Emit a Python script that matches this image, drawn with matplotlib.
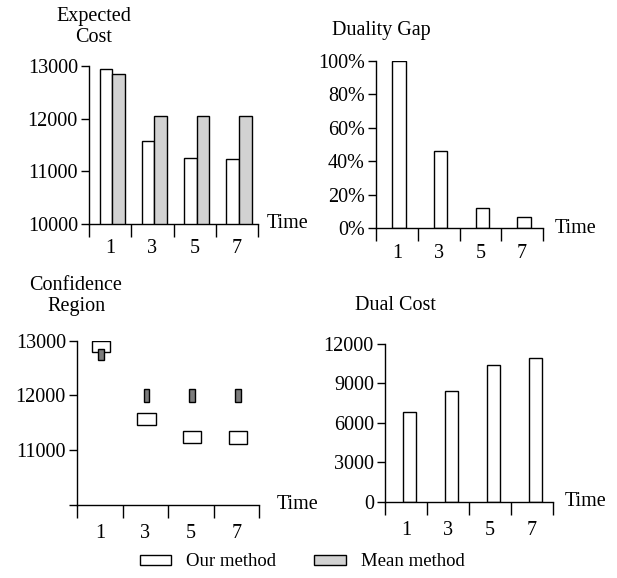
import matplotlib
matplotlib.use('Agg')
from matplotlib import pyplot as plt
from matplotlib.patches import Patch

plt.rcParams['font.family'] = 'Liberation Serif'
plt.rcParams['font.size'] = 14.5
plt.rcParams['axes.linewidth'] = 1.0

# data
times = [1, 3, 5, 7]
exp_ours = [12950, 11580, 11250, 11240]
exp_mean = [12850, 12060, 12060, 12060]
gap_pct = [100, 46, 12, 7]
ci_ours_low = [12790, 11450, 11120, 11110]
ci_ours_high = [13000, 11680, 11350, 11340]
ci_mean_low = [12640, 11870, 11870, 11870]
ci_mean_high = [12850, 12120, 12120, 12120]
dual_cost = [6800, 8450, 10400, 10900]

W, H = 617, 578
fig = plt.figure(figsize=(W / 100, H / 100), dpi=100)


def make_axes(x0, x1, ytop, ybot):
    return fig.add_axes([x0 / W, 1 - ybot / H, (x1 - x0) / W, (ybot - ytop) / H])


def style(ax, time_x, label_pad):
    ax.spines['top'].set_visible(False)
    ax.spines['right'].set_visible(False)
    ax.set_xlim(0, 8)
    ax.set_xticks([0, 2, 4, 6, 8])
    ax.set_xticklabels([])
    ax.set_xticks(times, minor=True)
    ax.set_xticklabels([str(t) for t in times], minor=True)
    ax.tick_params(axis='x', which='major', direction='out', length=9.4, width=1.0)
    ax.tick_params(axis='x', which='minor', length=0, pad=label_pad)
    ax.tick_params(axis='y', direction='out', length=6, width=1.0, pad=2)
    ax.text(time_x, 0, 'Time', transform=ax.transAxes, ha='left', va='center')


light = '#d2d2d2'
dark = '#7c7c7c'

# Expected cost
ax1 = make_axes(89, 258, 66, 224)
x = [t - 0.2 for t in times]
ax1.bar(x, exp_ours, width=0.6, color='white', edgecolor='black', linewidth=1.0)
x = [t + 0.4 for t in times]
ax1.bar(x, exp_mean, width=0.6, color=light, edgecolor='black', linewidth=1.0)
ax1.set_ylim(10000, 13000)
ax1.set_yticks([10000, 11000, 12000, 13000])
style(ax1, 1.053, 11)
fig.text(94 / W, 1 - 27 / H, 'Expected\nCost', ha='center', va='center', linespacing=1.2)

# Duality gap
ax2 = make_axes(376, 543, 61, 228.3)
x = [t + 0.1 for t in times]
ax2.bar(x, gap_pct, width=0.65, color='white', edgecolor='black', linewidth=1.0)
ax2.set_ylim(0, 100)
ax2.set_yticks([0, 20, 40, 60, 80, 100])
ax2.set_yticklabels(['0%', '20%', '40%', '60%', '80%', '100%'])
style(ax2, 1.07, 11.5)
fig.text(381 / W, 1 - 30 / H, 'Duality Gap', ha='center', va='center')

# Confidence region
ax3 = make_axes(77, 259.3, 340.7, 504.7)
x = [t + 0.05 for t in times]
ax3.bar(x, [h - l for h, l in zip(ci_ours_high, ci_ours_low)], bottom=ci_ours_low,
        width=0.8, color='white', edgecolor='black', linewidth=1.0)
ax3.bar(x, [h - l for h, l in zip(ci_mean_high, ci_mean_low)], bottom=ci_mean_low,
        width=0.26, color=dark, edgecolor='black', linewidth=1.0)
ax3.set_ylim(10000, 13000)
ax3.set_yticks([10000, 11000, 12000, 13000])
ax3.set_yticklabels(['', '11000', '12000', '13000'])
style(ax3, 1.095, 14)
fig.text(76 / W, 1 - 296 / H, 'Confidence\nRegion', ha='center', va='center', linespacing=1.2)

# Dual cost
ax4 = make_axes(385, 553, 344, 501.7)
x = [t + 0.15 for t in times]
ax4.bar(x, dual_cost, width=0.63, color='white', edgecolor='black', linewidth=1.0)
ax4.set_ylim(0, 12000)
ax4.set_yticks([0, 3000, 6000, 9000, 12000])
style(ax4, 1.07, 14)
fig.text(395 / W, 1 - 305 / H, 'Dual Cost', ha='center', va='center')

handles = [Patch(facecolor='white', edgecolor='black', linewidth=1.0, label='Our method'),
           Patch(facecolor=light, edgecolor='black', linewidth=1.0, label='Mean method')]
fig.legend(handles=handles, loc='center', bbox_to_anchor=(302 / W, 1 - 562 / H), ncol=2,
           frameon=False, fontsize=13.5, handlelength=1.7, handleheight=0.5,
           handletextpad=0.8, columnspacing=2.0, borderpad=0)

fig.savefig('out.png', dpi=100)
